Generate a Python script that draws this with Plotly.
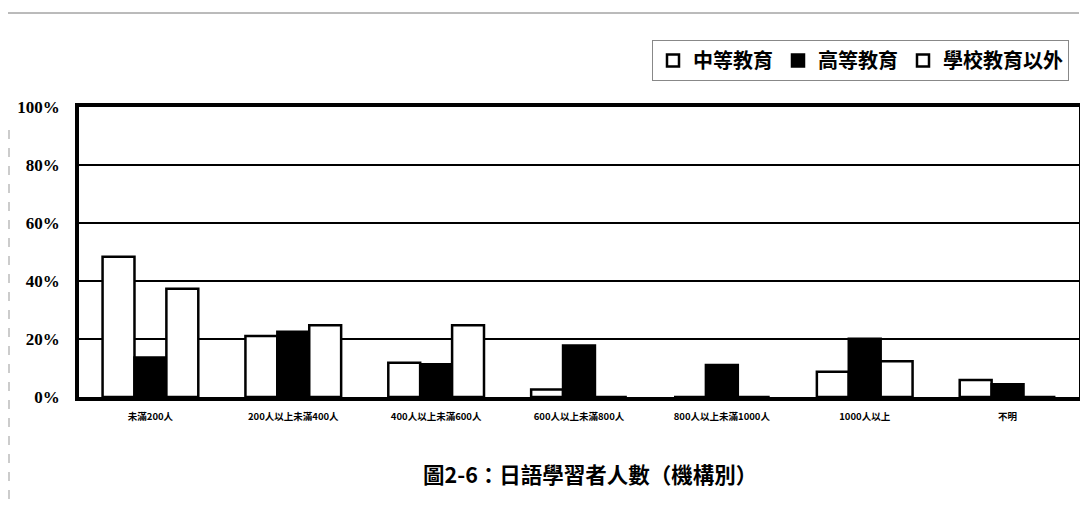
import plotly.graph_objects as go

categories = ["未滿200人", "200人以上未滿400人", "400人以上未滿600人", "600人以上未滿800人",
              "800人以上未滿1000人", "1000人以上", "不明"]
series_names = ["中等教育", "高等教育", "學校教育以外"]
secondary = [48.4, 21.0, 11.8, 2.6, 0.0, 8.7, 5.9]
higher = [13.6, 22.5, 11.3, 17.8, 11.0, 20.1, 4.4]
outside = [37.3, 24.7, 24.7, 0.0, 0.0, 12.3, 0.0]
ytick_vals = [0, 20, 40, 60, 80, 100]
ytick_text = ["0%", "20%", "40%", "60%", "80%", "100%"]
title_text = "圖2-6：日語學習者人數（機構別）"

serif = "Liberation Serif, Noto Sans CJK TC, serif"
cjk = "Noto Sans CJK TC, Liberation Serif, sans-serif"

# plot area (page pixels): x 79..1079, y 107..397 ; page has 8px body margin
X0, Y0, Y1 = 79.0, 107.0, 397.0
PW, PH = 1000.0, Y1 - Y0

fills = ["white", "black", "white"]
fig = go.Figure()
for name, vals, fc in zip(series_names, [secondary, higher, outside], fills):
    fig.add_trace(go.Bar(
        x=categories, y=vals, name=name,
        marker=dict(color=fc, line=dict(color="black", width=2.5)),
    ))

fig.update_layout(
    width=1072, height=494,
    margin=dict(l=71, r=1, t=99, b=105, autoexpand=False),
    paper_bgcolor="white", plot_bgcolor="white",
    barmode="group", bargap=0.33, bargroupgap=0,
    showlegend=True,
    legend=dict(
        orientation="h", x=(652 - X0) / PW, y=(Y1 - 40) / PH, xanchor="left", yanchor="top",
        bordercolor="#888", borderwidth=1,
        font=dict(family=cjk, size=20, color="black", weight="bold"),
        itemwidth=30, traceorder="normal",
    ),
    font=dict(family=serif, color="black"),
)
fig.update_xaxes(
    showline=True, linecolor="black", linewidth=3.5, mirror=True,
    tickfont=dict(family=cjk, size=9.5, color="black", weight="bold"),
    ticks="outside", tickcolor="rgba(0,0,0,0)", ticklen=8,
    showgrid=False,
)
fig.update_yaxes(
    range=[0, 100], tickvals=ytick_vals, ticktext=ytick_text,
    showline=True, linecolor="black", linewidth=3.5, mirror=True,
    gridcolor="black", gridwidth=1.5,
    tickfont=dict(family=serif, size=17, color="black", weight="bold"),
    ticks="outside", tickcolor="rgba(0,0,0,0)", ticklen=12,
    zeroline=False,
)
fig.add_annotation(
    text=title_text, xref="paper", yref="paper",
    x=(590 - X0) / PW, y=(Y1 - 473) / PH, xanchor="center", yanchor="middle",
    showarrow=False, font=dict(family=cjk, size=21.5, color="black", weight="bold"),
)
# scan border decorations
fig.add_shape(type="line", xref="paper", yref="paper",
              x0=-71 / PW, x1=1.0, y0=(Y1 - 13) / PH, y1=(Y1 - 13) / PH,
              line=dict(color="#777", width=1))
fig.add_shape(type="line", xref="paper", yref="paper",
              x0=-70 / PW, x1=-70 / PW, y0=(Y1 - 130) / PH, y1=(Y1 - 510) / PH,
              line=dict(color="#999", width=1, dash="dash"))

fig.write_html("out.html")
